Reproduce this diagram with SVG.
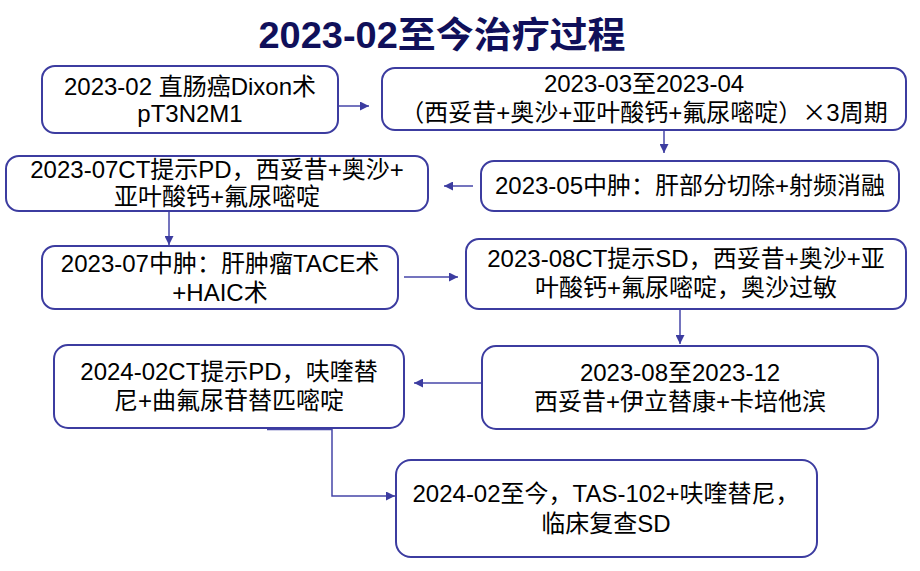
<svg xmlns="http://www.w3.org/2000/svg" width="920" height="571" viewBox="0 0 920 571">
<style>
.box{fill:#ffffff;stroke:#3c3ca0;stroke-width:2}
.t{font-family:"Liberation Sans","Noto Sans CJK SC",sans-serif;font-size:24px;fill:#000000;text-anchor:middle}
.cjk{font-family:"Noto Sans CJK SC",sans-serif}
.title{font-family:"Liberation Sans","Noto Sans CJK SC",sans-serif;font-size:36px;font-weight:bold;fill:#10105a;text-anchor:middle}
.c{fill:none;stroke:#4646a8;stroke-width:1.5}
</style>
<defs>
<marker id="ah" markerUnits="userSpaceOnUse" markerWidth="10" markerHeight="9" refX="9" refY="4.5" orient="auto">
<path d="M0,0 L9,4.5 L0,9 z" fill="#3c3ca0"/>
</marker>
</defs>
<rect width="920" height="571" fill="#ffffff"/>
<text class="title" x="442" y="48" textLength="367" lengthAdjust="spacingAndGlyphs">2023-02至今治疗过程</text>
<g id="connectors">
<path class="c" d="M339,106 H369" marker-end="url(#ah)"/>
<path class="c" d="M664,131 V153" marker-end="url(#ah)"/>
<path class="c" d="M473,186 H444" marker-end="url(#ah)"/>
<path class="c" d="M169,212 V245" marker-end="url(#ah)"/>
<path class="c" d="M404,277 H458" marker-end="url(#ah)"/>
<path class="c" d="M680,310 V344" marker-end="url(#ah)"/>
<path class="c" d="M482,383 H414" marker-end="url(#ah)"/>
<path class="c" d="M267,429.5 H332 V496 H395" marker-end="url(#ah)"/>
</g>
<g id="n1">
<rect class="box" x="42" y="66" width="296" height="67" rx="13"/>
<text class="t" x="190" y="95">2023-02 直肠癌Dixon术</text>
<text class="t" x="190" y="122">pT3N2M1</text>
</g>
<g id="n2">
<rect class="box" x="382" y="68" width="524" height="62" rx="13"/>
<text class="t" x="644" y="92">2023-03至2023-04</text>
<text class="t" x="644" y="121">（西妥昔+奥沙+亚叶酸钙+氟尿嘧啶）<tspan class="cjk">×</tspan>3周期</text>
</g>
<g id="n3">
<rect class="box" x="6" y="156" width="422" height="55" rx="13"/>
<text class="t" x="217" y="178">2023-07CT提示PD，西妥昔+奥沙+</text>
<text class="t" x="217" y="205">亚叶酸钙+氟尿嘧啶</text>
</g>
<g id="n4">
<rect class="box" x="481" y="161" width="418" height="50" rx="13"/>
<text class="t" x="690" y="194">2023-05中肿：肝部分切除+射频消融</text>
</g>
<g id="n5">
<rect class="box" x="42" y="246" width="356" height="63" rx="13"/>
<text class="t" x="220" y="272">2023-07中肿：肝肿瘤TACE术</text>
<text class="t" x="220" y="301">+HAIC术</text>
</g>
<g id="n6">
<rect class="box" x="466" y="239" width="440" height="70" rx="13"/>
<text class="t" x="686" y="267">2023-08CT提示SD，西妥昔+奥沙+亚</text>
<text class="t" x="686" y="296">叶酸钙+氟尿嘧啶，奥沙过敏</text>
</g>
<g id="n7">
<rect class="box" x="482" y="346" width="396" height="83" rx="14"/>
<text class="t" x="680" y="381">2023-08至2023-12</text>
<text class="t" x="680" y="410">西妥昔+伊立替康+卡培他滨</text>
</g>
<g id="n8">
<rect class="box" x="54" y="345" width="350" height="83" rx="14"/>
<text class="t" x="229" y="380">2024-02CT提示PD，呋喹替</text>
<text class="t" x="229" y="409">尼+曲氟尿苷替匹嘧啶</text>
</g>
<g id="n9">
<rect class="box" x="396" y="460" width="421" height="97" rx="15"/>
<text class="t" x="606" y="502">2024-02至今，TAS-102+呋喹替尼，</text>
<text class="t" x="606" y="532">临床复查SD</text>
</g>
</svg>
